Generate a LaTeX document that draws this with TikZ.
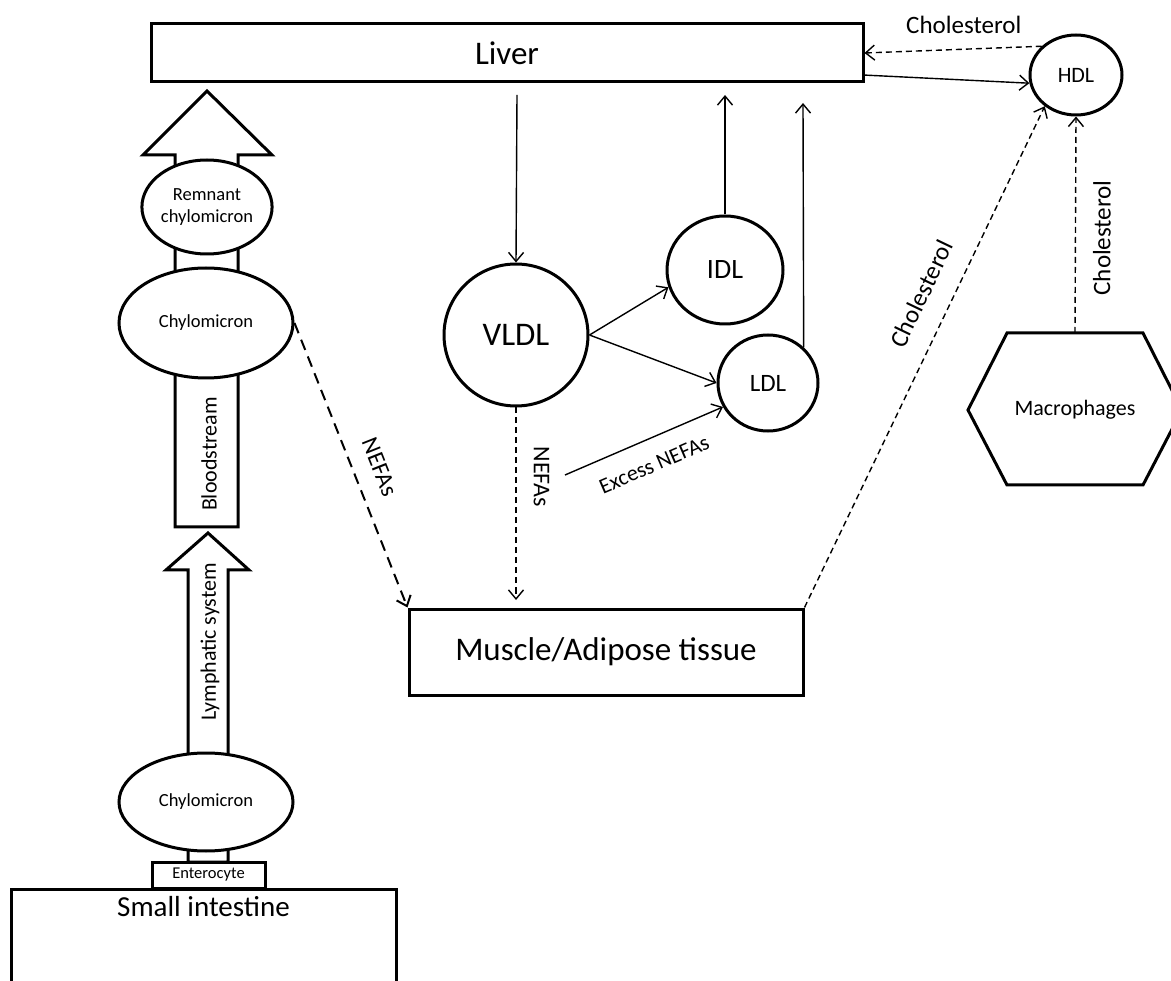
\documentclass[tikz,border=0pt]{standalone}
\usepackage{fontspec}
\setmainfont{Carlito}
\usetikzlibrary{positioning, arrows.meta, shapes.geometric}
\newcommand{\fsz}[1]{\fontsize{#1}{#1}\selectfont}
\tikzset{
  >={Straight Barb[length=9pt, width=15pt]},
  organ/.style={draw, line width=3pt, fill=white, inner sep=0pt},
  blob/.style={draw, ellipse, line width=3pt, fill=white, inner sep=0pt, align=center},
  flow/.style={->, line width=1.4pt},
  leak/.style={->, line width=1.4pt, dash pattern=on 6pt off 4pt},
  lbl/.style={inner sep=3pt},
}

\begin{document}
\begin{tikzpicture}[x=1pt, y=-1pt]
  \path[use as bounding box, clip] (0,0) rectangle (1171,981);

  % block arrows (gut -> liver)
  \draw[line width=3pt, line join=miter] (175,527) -- (175,155) -- (143,155) -- (207,91)
    -- (272,155) -- (238,155) -- (238,527) -- cycle;
  \draw[line width=3pt, line join=miter] (188,862) -- (188,570) -- (166,570) -- (208,533)
    -- (249,570) -- (228,570) -- (228,862) -- cycle;
  \node[rotate=90, font=\fsz{22}] (blood) at (209,454) {Bloodstream};
  \node[rotate=90, font=\fsz{22}] (lymph) at (210,642) {Lymphatic system};

  % organs and particles
  \node[organ, minimum width=712pt, minimum height=58pt, font=\fsz{33}] (liver) at (507,53) {Liver};
  \node[organ, minimum width=394pt, minimum height=86pt, font=\fsz{33}] (muscle) at (606,652) {Muscle/Adipose tissue};
  \node[organ, minimum width=385pt, minimum height=150pt, anchor=north] (gut) at (203.5,888) {};
  \node[font=\fsz{29}] (gutlbl) at (203.5,907) {Small intestine};
  \node[organ, minimum width=113pt, minimum height=26pt, font=\fsz{16.5}] (entero) at (208.5,875) {Enterocyte};

  \node[blob, minimum width=174pt, minimum height=98pt, font=\fsz{18.5}] (chylo1) at (206,802) {Chylomicron};
  \node[blob, minimum width=174pt, minimum height=110pt, font=\fsz{18.5}] (chylo2) at (206,323) {Chylomicron};
  \node[blob, minimum width=126pt, minimum height=94pt, font=\fontsize{18.5}{22}\selectfont] (remnant) at (207,207) {Remnant\\chylomicron};

  \node[blob, minimum width=144pt, minimum height=142pt, font=\fsz{33}] (vldl) at (516,335) {VLDL};
  \node[blob, minimum width=116pt, minimum height=108pt, font=\fsz{28}] (idl) at (725,270) {IDL};
  \node[blob, minimum width=100pt, minimum height=96pt, font=\fsz{25}] (ldl) at (768,383) {LDL};
  \node[blob, minimum width=92pt, minimum height=80pt, font=\fsz{22}] (hdl) at (1076,75) {HDL};

  \node[font=\fsz{22}] (macro) at (1075,410) {Macrophages};
  \draw[line width=3pt, line join=miter] (968,410) -- (1007,333) -- (1143,333) -- (1182,410)
    -- (1143,485) -- (1007,485) -- cycle;
  \coordinate (macrotop) at (1075,333);

  % free ends near the liver
  \coordinate (livout) at (517,95);
  \coordinate (idlin) at (725,95);
  \coordinate (ldlin) at (803,103);
  \coordinate (livhdl) at (863,75);
  \coordinate (nefa) at (516,600);
  \coordinate (xsnefa) at (565,475);

  % connectors
  \draw[flow] (livout) -- (vldl.north);
  \draw[flow] (idl.north) -- (idlin);
  \draw[flow] (ldl.45) -- (ldlin);
  \draw[flow] (vldl.east) -- (idl.197);
  \draw[flow] (vldl.east) -- (ldl.west);
  \draw[flow] (xsnefa) -- node[sloped, below=15pt, lbl, font=\fsz{22}, pos=0.5] {Excess NEFAs} (ldl.208);
  \draw[flow] (livhdl) -- (hdl.190);

  \draw[leak] (vldl.south) -- node[sloped, above=14pt, lbl, font=\fsz{24}, pos=0.36] {NEFAs} (nefa);
  \draw[leak, line width=2pt, dash pattern=on 11pt off 7pt] (chylo2.east) -- node[sloped, above=14pt, lbl, font=\fsz{24}, pos=0.54] {NEFAs} (muscle.north west);
  \draw[leak] (hdl.140) -- node[above=12pt, lbl, font=\fsz{25}, pos=0.44] {Cholesterol} (liver.east);
  \draw[leak] (muscle.north east) -- node[sloped, above=18pt, lbl, font=\fsz{25}, pos=0.6] {Cholesterol} (hdl.225);
  \draw[leak] (macrotop) -- node[sloped, below=14pt, lbl, font=\fsz{25}, pos=0.44] {Cholesterol} (hdl.south);
\end{tikzpicture}
\end{document}
